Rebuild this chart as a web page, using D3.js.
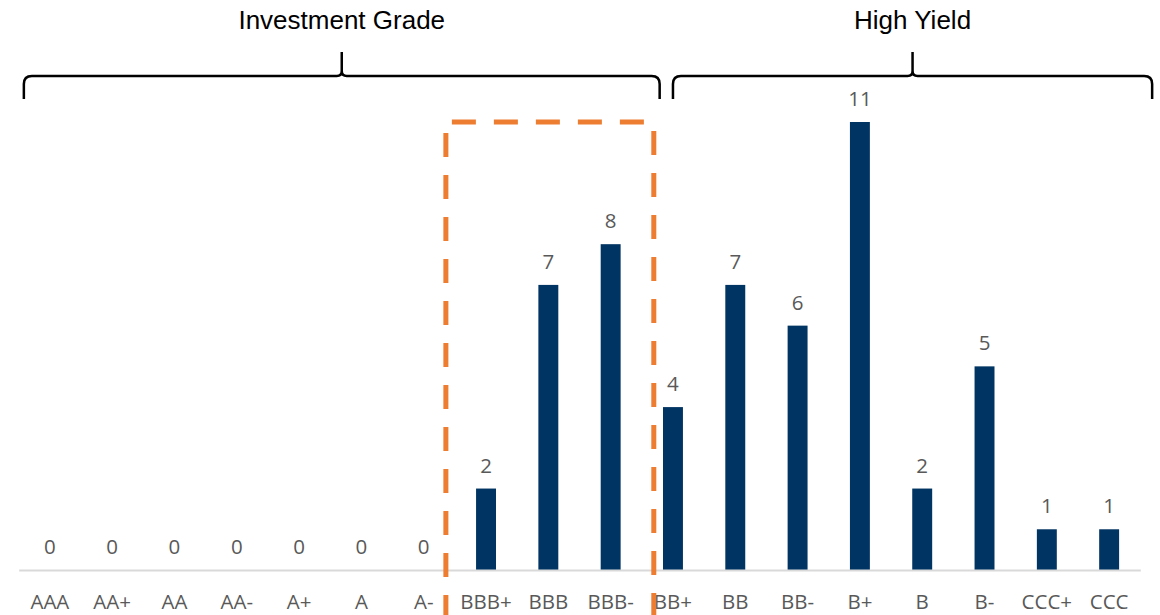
<!DOCTYPE html>
<html>
<head>
<meta charset="utf-8">
<script src="https://cdn.jsdelivr.net/npm/d3@7"></script>
<style>
  body { margin: 0; background: #fff; }
  svg { display: block; }
</style>
</head>
<body>
<script>
// ratings on the x axis and number of issuers for each
var ratings = ["AAA", "AA+", "AA", "AA-", "A+", "A", "A-", "BBB+", "BBB", "BBB-",
               "BB+", "BB", "BB-", "B+", "B", "B-", "CCC+", "CCC"];
var counts = [0, 0, 0, 0, 0, 0, 0, 2, 7, 8, 4, 7, 6, 11, 2, 5, 1, 1];

// brackets above the bars
var groupNames = ["Investment Grade", "High Yield"];
var groupFirst = ["AAA", "BB+"];
var groupLast = ["BBB-", "CCC"];

// ratings inside the orange dashed box
var boxFirst = "BBB+";
var boxLast = "BBB-";

var width = 1160;
var height = 615;
var baseY = 570;

var svg = d3.select("body")
    .append("svg")
    .attr("width", width)
    .attr("height", height);

var xScale = d3.scaleBand()
    .domain(ratings)
    .range([18.7, 1140.3])
    .paddingInner(0.68)
    .paddingOuter(0.34);

var yScale = d3.scaleLinear()
    .domain([0, 11])
    .range([baseY, 122]);

var step = xScale.step();
function cx(r) { return xScale(r) + xScale.bandwidth() / 2; }

// bars
svg.selectAll("rect.bar")
    .data(counts)
    .enter()
    .append("rect")
    .attr("class", "bar")
    .attr("x", function(d, i) { return xScale(ratings[i]); })
    .attr("y", function(d) { return yScale(d); })
    .attr("width", xScale.bandwidth())
    .attr("height", function(d) { return baseY - yScale(d); })
    .attr("fill", "#003462");

// value labels
svg.selectAll("text.val")
    .data(counts)
    .enter()
    .append("text")
    .attr("class", "val")
    .attr("x", function(d, i) { return cx(ratings[i]); })
    .attr("y", function(d) { return yScale(d) - 16; })
    .attr("text-anchor", "middle")
    .attr("font-family", "'Open Sans', sans-serif")
    .attr("font-size", "20.5px")
    .attr("fill", "#595959")
    .text(function(d) { return d; });

// x axis
var xAxis = d3.axisBottom(xScale).tickSize(0).tickPadding(0);
var xAxisGroup = svg.append("g")
    .attr("transform", "translate(0," + baseY + ")")
    .call(xAxis);
xAxisGroup.select(".domain")
    .attr("stroke", "#d9d9d9")
    .attr("stroke-width", 2);
xAxisGroup.selectAll("text")
    .attr("y", 39)
    .attr("dy", 0)
    .attr("font-family", "'Open Sans', sans-serif")
    .attr("font-size", "20.5px")
    .attr("fill", "#595959");

// orange dashed box round the BBB ratings
var boxLeft = cx(boxFirst) - step / 2 - 9;
var boxRight = cx(boxLast) + step / 2 + 12;
var boxTop = yScale(11);
var orange = "#ED7D31";

svg.append("line")
    .attr("x1", boxLeft).attr("y1", boxTop)
    .attr("x2", boxRight).attr("y2", boxTop)
    .attr("stroke", orange).attr("stroke-width", 5)
    .attr("stroke-dasharray", "24,18")
    .attr("stroke-dashoffset", -6);
svg.append("line")
    .attr("x1", boxLeft).attr("y1", boxTop + 11)
    .attr("x2", boxLeft).attr("y2", height + 20)
    .attr("stroke", orange).attr("stroke-width", 5)
    .attr("stroke-dasharray", "24,18");
svg.append("line")
    .attr("x1", boxRight).attr("y1", boxTop + 9)
    .attr("x2", boxRight).attr("y2", height + 20)
    .attr("stroke", orange).attr("stroke-width", 5)
    .attr("stroke-dasharray", "24,18");

// curly brackets with titles
function bracePath(x0, x1, y, tipY, endY) {
    var xm = (x0 + x1) / 2;
    var r = 8, t = 5;
    return "M" + x0 + "," + endY +
        "L" + x0 + "," + (y + r) +
        "Q" + x0 + "," + y + "," + (x0 + r) + "," + y +
        "L" + (xm - t) + "," + y +
        "Q" + xm + "," + y + "," + xm + "," + (y - t) +
        "L" + xm + "," + tipY +
        "M" + xm + "," + (y - t) +
        "Q" + xm + "," + y + "," + (xm + t) + "," + y +
        "L" + (x1 - r) + "," + y +
        "Q" + x1 + "," + y + "," + x1 + "," + (y + r) +
        "L" + x1 + "," + endY;
}

var braceLeft = [cx(groupFirst[0]) - 26, cx(groupFirst[1]) - 0];
var braceRight = [cx(groupLast[0]) + 49, cx(groupLast[1]) + 43];

groupNames.forEach(function(name, i) {
    var x0 = braceLeft[i], x1 = braceRight[i];
    svg.append("path")
        .attr("d", bracePath(x0, x1, 76, 52, 99))
        .attr("fill", "none")
        .attr("stroke", "#000")
        .attr("stroke-width", 2.5);
    svg.append("text")
        .attr("x", (x0 + x1) / 2)
        .attr("y", 29)
        .attr("text-anchor", "middle")
        .attr("font-family", "'Liberation Sans', Arial, sans-serif")
        .attr("font-size", "26px")
        .attr("fill", "#000")
        .text(name);
});
</script>
</body>
</html>
